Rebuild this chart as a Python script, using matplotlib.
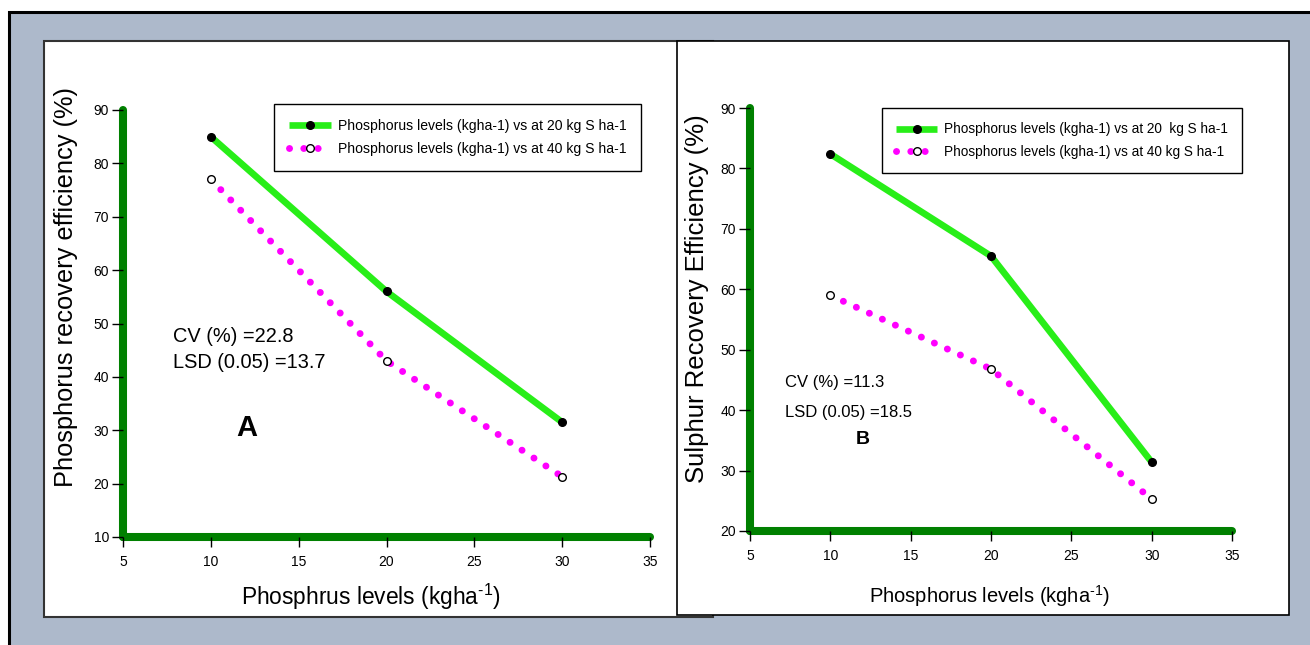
import matplotlib
matplotlib.use("Agg")
import matplotlib.pyplot as plt
from matplotlib.patches import Rectangle

plt.rcParams['font.family'] = ['Liberation Sans', 'DejaVu Sans']
plt.rcParams['mathtext.fontset'] = 'custom'
plt.rcParams['mathtext.rm'] = 'Liberation Sans'
plt.rcParams['mathtext.it'] = 'Liberation Sans:italic'
plt.rcParams['mathtext.bf'] = 'Liberation Sans:bold'

# ---- data ----
p_levels = [10, 20, 30]
a_s20 = [85, 56, 31.5]
a_s40 = [77, 43, 21.3]
b_s20 = [82.4, 65.5, 31.4]
b_s40 = [59.0, 46.8, 25.3]
x_ticks = [5, 10, 15, 20, 25, 30, 35]
a_yticks = [10, 20, 30, 40, 50, 60, 70, 80, 90]
b_yticks = [20, 30, 40, 50, 60, 70, 80, 90]
label_a20 = "Phosphorus levels (kgha-1) vs at 20 kg S ha-1"
label_a40 = "Phosphorus levels (kgha-1) vs at 40 kg S ha-1"
label_b20 = "Phosphorus levels (kgha-1) vs at 20  kg S ha-1"
label_b40 = "Phosphorus levels (kgha-1) vs at 40 kg S ha-1"

W, H = 1310, 645
fig = plt.figure(figsize=(W / 100, H / 100), dpi=100)
fig.patch.set_facecolor('white')


def frect(x0, y0, x1, y1, **kw):
    """rectangle in pixel coords (top-left origin)"""
    return Rectangle((x0 / W, 1 - y1 / H), (x1 - x0) / W, (y1 - y0) / H,
                     transform=fig.transFigure, **kw)


# background
fig.patches.append(frect(9, 12, W + 5, H + 5, facecolor='#ADB9CB', edgecolor='black',
                         linewidth=2.2, zorder=-10))
fig.patches.append(frect(44, 41, 713, 617, facecolor='white', edgecolor='#333333',
                         linewidth=1.5, zorder=-9))
fig.patches.append(frect(677, 41, 1289, 615, facecolor='white', edgecolor='black',
                         linewidth=1.2, zorder=-8))

GREEN = '#28EE18'
MAG = '#FF00FF'
AXG = '#008000'


def ax_at(l, t, r, b):
    return fig.add_axes([l / W, 1 - b / H, (r - l) / W, (b - t) / H])


def style(ax, ylo, yhi, yticks):
    ax.set_facecolor('none')
    ax.set_xlim(5, 35)
    ax.set_ylim(ylo, yhi)
    ax.set_xticks(x_ticks)
    ax.set_yticks(yticks)
    for s in ('top', 'right'):
        ax.spines[s].set_visible(False)
    for s in ('left', 'bottom'):
        ax.spines[s].set_color(AXG)
        ax.spines[s].set_linewidth(5.8)
        ax.spines[s].set_capstyle('round')
        ax.spines[s].set_zorder(1)
    ax.tick_params(axis='y', length=8, width=1, color='black', labelsize=10, pad=2)
    ax.tick_params(axis='x', length=7, width=1, color='black', labelsize=10, pad=6)


def draw(ax, x, y20, y40, l20, l40):
    h1, = ax.plot(x, y20, color=GREEN, lw=4.8, solid_capstyle='butt',
                  marker='o', ms=5.5, mfc='black', mec='black', zorder=3,
                  label=l20)
    h2, = ax.plot(x, y40, color=MAG, lw=5.0, linestyle=(0, (0.01, 2.05)),
                  dash_capstyle='round', marker='o', ms=5.5, mfc='white',
                  mec='black', mew=1, zorder=3, label=l40)
    for h in (h1, h2):
        h.set_clip_on(False)
    return h1, h2


def place_labels(ax, l, t, r, b, xlab_px, ylab_px):
    w, h = r - l, b - t
    ax.xaxis.label.set_verticalalignment('center')
    ax.xaxis.set_label_coords((xlab_px[0] - l) / w, (b - xlab_px[1]) / h)
    ax.yaxis.label.set_verticalalignment('center')
    ax.yaxis.label.set_horizontalalignment('center')
    ax.yaxis.set_label_coords((ylab_px[0] - l) / w, (b - ylab_px[1]) / h)


# ---- panel A ----
A_BOX = (123, 110, 650, 537)
axA = ax_at(*A_BOX)
style(axA, 10, 90, a_yticks)
hA = draw(axA, p_levels, a_s20, a_s40, label_a20, label_a40)
axA.set_ylabel("Phosphorus recovery efficiency (%)", fontsize=18.3)
axA.set_xlabel(r"Phosphrus levels (kgha$^{\text{-1}}$)", fontsize=16.4)
place_labels(axA, *A_BOX, (371, 597), (66, 287))
legA = fig.legend(handles=hA, loc='upper left',
                  bbox_to_anchor=(274 / W, 1 - 104 / H), borderaxespad=0,
                  fontsize=10.1, fancybox=False, edgecolor='black', framealpha=1,
                  handlelength=3.0, handletextpad=0.5, borderpad=1.05,
                  labelspacing=0.65, numpoints=1)
legA.get_frame().set_linewidth(1.0)
fig.text(173 / W, 1 - 336 / H, "CV (%) =22.8", fontsize=14.4, va='center')
fig.text(173 / W, 1 - 363 / H, "LSD (0.05) =13.7", fontsize=14.4, va='center')
fig.text(247 / W, 1 - 428 / H, "A", fontsize=21, fontweight='bold', va='center',
         ha='center')

# ---- panel B ----
B_BOX = (750, 108, 1232, 531)
axB = ax_at(*B_BOX)
style(axB, 20, 90, b_yticks)
hB = draw(axB, p_levels, b_s20, b_s40, label_b20, label_b40)
axB.set_ylabel("Sulphur Recovery Efficiency (%)", fontsize=18.5)
axB.set_xlabel(r"Phosphorus levels (kgha$^{\text{-1}}$)", fontsize=14.5)
place_labels(axB, *B_BOX, (990, 596), (697, 299))
legB = fig.legend(handles=hB, loc='upper left',
                  bbox_to_anchor=(882 / W, 1 - 108 / H), borderaxespad=0,
                  fontsize=9.8, fancybox=False, edgecolor='black', framealpha=1,
                  handlelength=3.0, handletextpad=0.5, borderpad=1.05,
                  labelspacing=0.65, numpoints=1)
legB.get_frame().set_linewidth(1.0)
fig.text(785 / W, 1 - 383 / H, "CV (%) =11.3", fontsize=12, va='center')
fig.text(785 / W, 1 - 412 / H, "LSD (0.05) =18.5", fontsize=12, va='center')
fig.text(863 / W, 1 - 440 / H, "B", fontsize=14, fontweight='bold', va='center',
         ha='center')

fig.savefig("out.png", dpi=100)
